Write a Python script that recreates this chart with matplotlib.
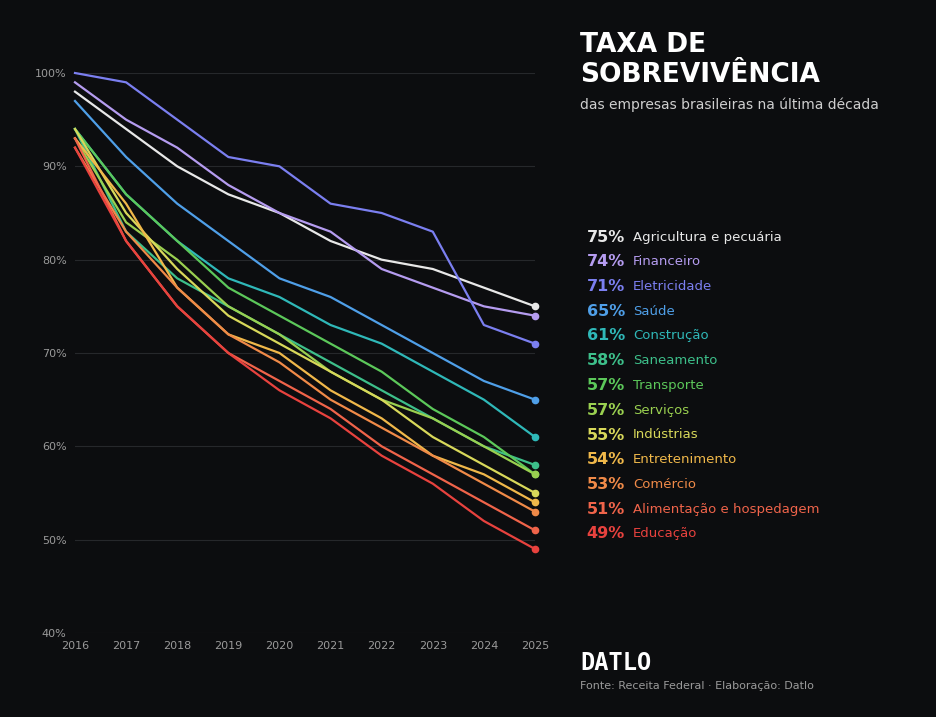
import matplotlib
matplotlib.use("Agg")
import matplotlib.pyplot as plt

years = list(range(2016, 2026))
names = ["Agricultura e pecuária", "Financeiro", "Eletricidade", "Saúde", "Construção",
         "Saneamento", "Transporte", "Serviços", "Indústrias", "Entretenimento",
         "Comércio", "Alimentação e hospedagem", "Educação"]
colors = ["#e8e8e8", "#b59cf0", "#7b7ff0", "#4f9fe8", "#2fb8b8", "#3dbf8a", "#5cc85a",
          "#9ad050", "#d8d85a", "#f0b84a", "#f08a48", "#f0644a", "#e8423e"]
values = [
    [98, 94, 90, 87, 85, 82, 80, 79, 77, 75],
    [99, 95, 92, 88, 85, 83, 79, 77, 75, 74],
    [100, 99, 95, 91, 90, 86, 85, 83, 73, 71],
    [97, 91, 86, 82, 78, 76, 73, 70, 67, 65],
    [94, 87, 82, 78, 76, 73, 71, 68, 65, 61],
    [94, 83, 78, 75, 72, 69, 66, 63, 60, 58],
    [94, 87, 82, 77, 74, 71, 68, 64, 61, 57],
    [93, 84, 80, 75, 72, 68, 65, 63, 60, 57],
    [94, 85, 79, 74, 71, 68, 65, 61, 58, 55],
    [93, 86, 77, 72, 70, 66, 63, 59, 57, 54],
    [92, 83, 77, 72, 69, 65, 62, 59, 56, 53],
    [93, 82, 75, 70, 67, 64, 60, 57, 54, 51],
    [92, 82, 75, 70, 66, 63, 59, 56, 52, 49],
]
yticks = [40, 50, 60, 70, 80, 90, 100]

bg = "#0c0d0f"
fig = plt.figure(figsize=(9.36, 7.17), dpi=100, facecolor=bg)
ax = fig.add_axes([75/936, 1-633/717, 460/936, 560/717], facecolor=bg)
for v, c in zip(values, colors):
    ax.plot(years, v, color=c, lw=1.6, clip_on=False, zorder=3)
    ax.plot(years[-1], v[-1], "o", color=c, ms=4.5, clip_on=False, zorder=4)
ax.set_xlim(2016, 2025)
ax.set_ylim(40, 100)
ax.set_yticks(yticks)
ax.set_yticklabels([f"{t}%" for t in yticks])
ax.set_xticks(years)
ax.grid(axis="y", color="#26282b", lw=0.8)
for s in ax.spines.values():
    s.set_visible(False)
ax.tick_params(colors="#9a9a9a", labelsize=8, length=0, pad=6)

fig.text(580/936, 1-45/717, "TAXA DE", color="white", fontsize=19, fontweight="heavy", va="center", family="DejaVu Sans")
fig.text(580/936, 1-75/717, "SOBREVIVÊNCIA", color="white", fontsize=19, fontweight="heavy", va="center", family="DejaVu Sans")
fig.text(580/936, 1-105/717, "das empresas brasileiras na última década", color="#cfcfcf", fontsize=10, va="center")

for i, (n, v, c) in enumerate(zip(names, values, colors)):
    y = 1 - (237 + i * 24.75) / 717
    fig.text(625/936, y, f"{v[-1]}%", color=c, fontsize=11.5, fontweight="bold", ha="right", va="center")
    fig.text(633/936, y, n, color=c, fontsize=9.5, va="center")

fig.text(580/936, 1-663/717, "DATLO", color="white", fontsize=17, fontweight="bold", va="center", family="DejaVu Sans Mono")
fig.text(580/936, 1-686/717, "Fonte: Receita Federal · Elaboração: Datlo", color="#9a9a9a", fontsize=8, va="center")

fig.savefig("out.png", dpi=100, facecolor=bg)
